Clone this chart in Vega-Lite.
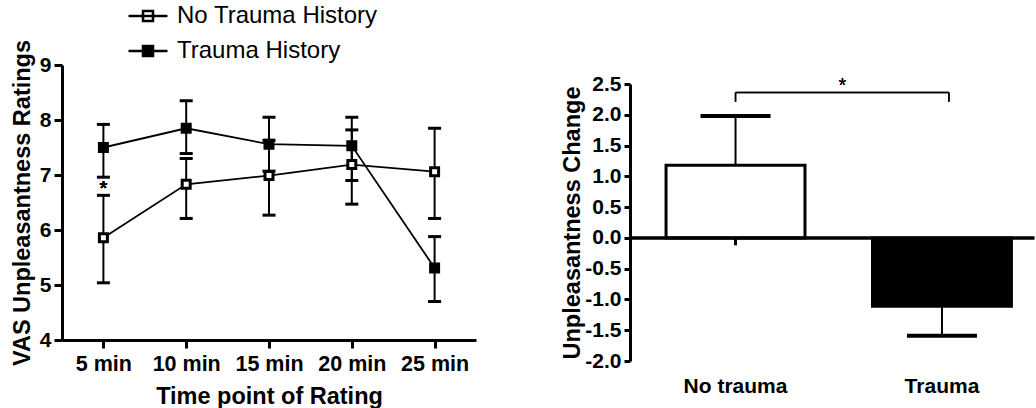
{
  "$schema": "https://vega.github.io/schema/vega-lite/v6.json",
  "padding": {"left": 10, "top": 4, "right": 0, "bottom": 0},
  "background": "white",
  "spacing": 154,
  "bounds": "flush",
  "resolve": {"scale": {"fill": "independent"}, "legend": {"fill": "independent"}},
  "hconcat": [
    {
      "width": 414,
      "height": 275,
      "data": {
        "values": [
          {"time": "5 min", "group": "No Trauma History", "mean": 5.86, "lo": 5.04, "hi": 6.63},
          {"time": "10 min", "group": "No Trauma History", "mean": 6.83, "lo": 6.21, "hi": 7.30},
          {"time": "15 min", "group": "No Trauma History", "mean": 6.99, "lo": 6.27, "hi": 7.63},
          {"time": "20 min", "group": "No Trauma History", "mean": 7.19, "lo": 6.47, "hi": 7.82},
          {"time": "25 min", "group": "No Trauma History", "mean": 7.06, "lo": 6.21, "hi": 7.85},
          {"time": "5 min", "group": "Trauma History", "mean": 7.50, "lo": 6.96, "hi": 7.92},
          {"time": "10 min", "group": "Trauma History", "mean": 7.85, "lo": 7.39, "hi": 8.35},
          {"time": "15 min", "group": "Trauma History", "mean": 7.56, "lo": 7.07, "hi": 8.05},
          {"time": "20 min", "group": "Trauma History", "mean": 7.53, "lo": 6.90, "hi": 8.05},
          {"time": "25 min", "group": "Trauma History", "mean": 5.31, "lo": 4.70, "hi": 5.88}
        ]
      },
      "encoding": {
        "x": {
          "field": "time",
          "type": "ordinal",
          "sort": ["5 min", "10 min", "15 min", "20 min", "25 min"],
          "scale": {"type": "point", "padding": 0.5},
          "axis": {
            "title": "Time point of Rating",
            "labelAngle": 0,
            "labelPadding": 5,
            "titlePadding": 10,
            "labelFontSize": 21.5,
            "domainColor": "black",
            "domainWidth": 3,
            "tickColor": "black",
            "tickWidth": 3,
            "tickSize": 8
          }
        },
        "y": {
          "field": "mean",
          "type": "quantitative",
          "scale": {"domain": [4, 9], "nice": false, "zero": false},
          "axis": {
            "title": "VAS Unpleasantness Ratings",
            "values": [4, 5, 6, 7, 8, 9],
            "labelOverlap": false,
            "labelFontSize": 21,
            "domainColor": "black",
            "domainWidth": 3,
            "tickColor": "black",
            "tickWidth": 3,
            "tickSize": 8,
            "labelPadding": 3,
            "titlePadding": 5
          }
        }
      },
      "layer": [
        {
          "mark": {"type": "rule", "color": "black", "strokeWidth": 2},
          "encoding": {
            "y": {"field": "lo", "type": "quantitative"},
            "y2": {"field": "hi"}
          }
        },
        {
          "mark": {"type": "tick", "color": "black", "opacity": 1, "size": 13, "thickness": 3},
          "encoding": {"y": {"field": "lo", "type": "quantitative"}}
        },
        {
          "mark": {"type": "tick", "color": "black", "opacity": 1, "size": 13, "thickness": 3},
          "encoding": {"y": {"field": "hi", "type": "quantitative"}}
        },
        {
          "mark": {"type": "line", "color": "black", "strokeWidth": 1.8},
          "encoding": {"detail": {"field": "group"}}
        },
        {
          "mark": {"type": "point", "shape": "square", "size": 64, "filled": true, "opacity": 1, "stroke": "black", "strokeWidth": 3},
          "encoding": {
            "fill": {
              "field": "group",
              "type": "nominal",
              "scale": {"domain": ["No Trauma History", "Trauma History"], "range": ["white", "black"]},
              "legend": {
                "title": null,
                "orient": "none",
                "legendX": 74,
                "legendY": -61,
                "padding": 0,
                "symbolType": "M1.95,0L-1.95,0M-0.5,-0.5L0.5,-0.5L0.5,0.5L-0.5,0.5Z",
                "symbolSize": 400,
                "symbolStrokeColor": "black",
                "symbolStrokeWidth": 2.5,
                "symbolOpacity": 1,
                "labelFont": "Liberation Sans",
                "labelFontSize": 24,
                "labelFontWeight": "normal",
                "labelColor": "black",
                "labelLimit": 0,
                "labelOffset": 17,
                "rowPadding": 11
              }
            }
          }
        },
        {
          "mark": {"type": "text", "text": "*", "fontSize": 20, "color": "black"},
          "encoding": {
            "x": {"datum": "5 min", "type": "ordinal"},
            "y": {"datum": 6.75, "type": "quantitative"}
          }
        }
      ]
    },
    {
      "width": 404,
      "height": 296,
      "data": {
        "values": [
          {"group": "No trauma", "mean": 1.18, "end": 1.98},
          {"group": "Trauma", "mean": -1.11, "end": -1.59}
        ]
      },
      "encoding": {
        "x": {
          "field": "group",
          "type": "nominal",
          "sort": ["No trauma", "Trauma"],
          "scale": {"type": "band", "paddingInner": 0.327, "paddingOuter": 0.142, "align": 0.615},
          "axis": {"title": null, "labelAngle": 0, "domain": false, "ticks": false, "labelPadding": 14, "labelFontSize": 21}
        },
        "y": {
          "field": "mean",
          "type": "quantitative",
          "scale": {"domain": [-2, 2.5], "nice": false, "range": [296, 19]},
          "axis": {
            "title": "Unpleasantness Change",
            "values": [-2, -1.5, -1, -0.5, 0, 0.5, 1, 1.5, 2, 2.5],
            "labelExpr": "(datum.value < 0 ? '-' : '') + format(abs(datum.value), '.1f')",
            "labelOverlap": false,
            "labelFontSize": 21,
            "domainColor": "black",
            "domainWidth": 3,
            "tickColor": "black",
            "tickWidth": 3,
            "tickSize": 6,
            "labelPadding": 3,
            "titlePadding": 0
          }
        }
      },
      "layer": [
        {
          "mark": {"type": "bar", "stroke": "black", "strokeWidth": 3},
          "encoding": {
            "fill": {
              "field": "group",
              "type": "nominal",
              "scale": {"domain": ["No trauma", "Trauma"], "range": ["white", "black"]},
              "legend": null
            }
          }
        },
        {
          "mark": {"type": "rule", "color": "black", "strokeWidth": 2},
          "encoding": {"y2": {"field": "end"}}
        },
        {
          "mark": {"type": "tick", "color": "black", "opacity": 1, "size": 70, "thickness": 4},
          "encoding": {"y": {"field": "end", "type": "quantitative"}}
        },
        {
          "mark": {"type": "rule", "color": "black", "strokeWidth": 3},
          "encoding": {
            "x": {"datum": "No trauma", "type": "nominal", "bandPosition": -0.26},
            "x2": {"datum": "Trauma", "bandPosition": 1.165},
            "y": {"datum": 0, "type": "quantitative"}
          }
        },
        {
          "mark": {"type": "rule", "color": "black", "strokeWidth": 3},
          "encoding": {
            "y": {"datum": 0, "type": "quantitative"},
            "y2": {"datum": -0.12}
          }
        },
        {
          "mark": {"type": "rule", "color": "black", "strokeWidth": 1.5},
          "encoding": {
            "x": {"datum": "No trauma", "type": "nominal", "bandPosition": 0.5},
            "x2": {"datum": "Trauma", "bandPosition": 0.55},
            "y": {"datum": 2.36, "type": "quantitative"}
          }
        },
        {
          "mark": {"type": "rule", "color": "black", "strokeWidth": 1.5},
          "encoding": {
            "x": {"datum": "No trauma", "type": "nominal", "bandPosition": 0.5},
            "y": {"datum": 2.21, "type": "quantitative"},
            "y2": {"datum": 2.36}
          }
        },
        {
          "mark": {"type": "rule", "color": "black", "strokeWidth": 1.5},
          "encoding": {
            "x": {"datum": "Trauma", "type": "nominal", "bandPosition": 0.55},
            "y": {"datum": 2.21, "type": "quantitative"},
            "y2": {"datum": 2.36}
          }
        },
        {
          "mark": {"type": "text", "text": "*", "fontSize": 20, "color": "black"},
          "encoding": {
            "x": {"datum": "No trauma", "type": "nominal", "bandPosition": 1.27},
            "y": {"datum": 2.47, "type": "quantitative"}
          }
        }
      ]
    }
  ],
  "config": {
    "font": "Liberation Sans",
    "view": {"stroke": null},
    "axis": {
      "grid": false,
      "domainColor": "black",
      "domainWidth": 3,
      "tickColor": "black",
      "tickWidth": 3,
      "tickSize": 7,
      "labelColor": "black",
      "labelFont": "Liberation Sans",
      "labelFontSize": 20,
      "labelFontWeight": "bold",
      "titleColor": "black",
      "titleFont": "Liberation Sans",
      "titleFontSize": 23.5,
      "titleFontWeight": "bold"
    }
  }
}
